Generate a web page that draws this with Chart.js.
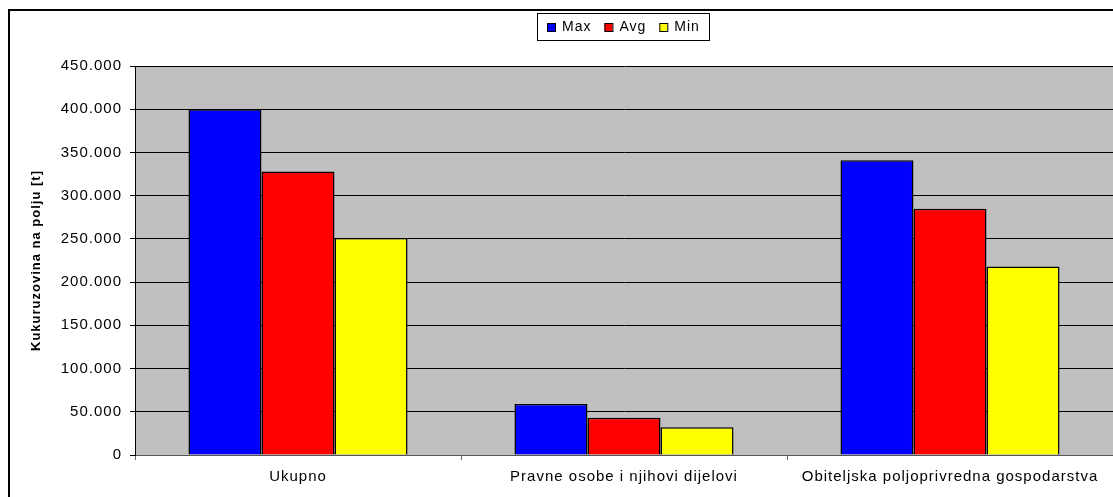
<!DOCTYPE html>
<html>
<head>
<meta charset="utf-8">
<script src="https://cdn.jsdelivr.net/npm/chart.js@4.4.0/dist/chart.umd.min.js"></script>
<style>
body { margin: 0; background: #fff; }
canvas { display: block; }
</style>
</head>
<body>
<canvas id="grafico" width="1113" height="497"></canvas>
<script>
// podaci procitani s grafa
const kategorije = ['Ukupno', 'Pravne osobe i njihovi dijelovi', 'Obiteljska poljoprivredna gospodarstva'];
const maxVrijednosti = [400000, 59000, 341000];
const avgVrijednosti = [328000, 43000, 285000];
const minVrijednosti = [251000, 32000, 218000];
const nazivOsi = 'Kukuruzovina na polju [t]';
const korakOsi = 50000;
const vrhOsi = 450000;

function formatBroj(v) {
    return String(v).replace(/\B(?=(\d{3})+(?!\d))/g, '.');
}

const FONT = "'Liberation Sans', Arial, sans-serif";

// razmak slova kao u Excelu, pozadina, okvir i legenda
const stil = {
    id: 'stil',
    beforeUpdate(chart) {
        chart.ctx.letterSpacing = '1px';
    },
    beforeDraw(chart) {
        const c = chart.ctx;
        const a = chart.chartArea;
        c.letterSpacing = '1px';
        c.save();
        c.fillStyle = '#fff';
        c.fillRect(0, 0, chart.width, chart.height);
        c.fillStyle = '#C0C0C0';
        c.fillRect(a.left, a.top, a.right - a.left, a.bottom - a.top);
        c.strokeStyle = '#000';
        c.lineWidth = 2;
        c.strokeRect(9, 10, 2000, 2000);
        c.restore();
    },
    afterDraw(chart) {
        const c = chart.ctx;
        c.save();
        c.letterSpacing = '1px';
        c.font = '14px ' + FONT;
        c.textBaseline = 'middle';
        c.strokeStyle = '#000';
        c.lineWidth = 1;
        c.strokeRect(537.5, 13.5, 172, 27);
        let x = 547;
        chart.data.datasets.forEach(ds => {
            c.fillStyle = ds.backgroundColor;
            c.fillRect(x, 23, 8, 8);
            c.strokeRect(x + 0.5, 23.5, 8, 8);
            c.fillStyle = '#000';
            c.fillText(ds.label, x + 15, 27);
            x += 15 + c.measureText(ds.label).width + 13;
        });
        c.restore();
    }
};

const ctx = document.getElementById('grafico');
const grafico = new Chart(ctx, {
    type: 'bar',
    data: {
        labels: kategorije,
        datasets: [
            { label: 'Max', data: maxVrijednosti, backgroundColor: '#0000FF', borderColor: '#000', borderWidth: 1.5 },
            { label: 'Avg', data: avgVrijednosti, backgroundColor: '#FF0000', borderColor: '#000', borderWidth: 1.5 },
            { label: 'Min', data: minVrijednosti, backgroundColor: '#FFFF00', borderColor: '#000', borderWidth: 1.5 }
        ]
    },
    options: {
        responsive: false,
        devicePixelRatio: 1,
        animation: false,
        categoryPercentage: 0.672,
        barPercentage: 1,
        layout: { padding: { top: 66, left: 0, right: 0, bottom: 0 } },
        plugins: {
            legend: { display: false },
            tooltip: { enabled: false }
        },
        scales: {
            x: {
                afterFit(scale) { scale.height = 42; },
                grid: { drawOnChartArea: false, drawTicks: true, tickLength: 5, color: '#666', offset: true },
                border: { color: '#555', width: 1 },
                ticks: { color: '#000', font: { size: 15, family: FONT }, padding: 8, maxRotation: 0 }
            },
            y: {
                min: 0,
                max: vrhOsi,
                afterFit(scale) { scale.width = 135; },
                grid: { color: '#000', lineWidth: 1, tickLength: 5 },
                border: { color: '#000', width: 1 },
                ticks: {
                    stepSize: korakOsi,
                    color: '#000',
                    font: { size: 15, family: FONT },
                    padding: 8,
                    callback: v => formatBroj(v)
                },
                title: {
                    display: true,
                    text: nazivOsi,
                    color: '#000',
                    font: { size: 13, weight: 'bold', family: FONT },
                    padding: { top: 29, bottom: 0 }
                }
            }
        }
    },
    plugins: [stil]
});
</script>
</body>
</html>
